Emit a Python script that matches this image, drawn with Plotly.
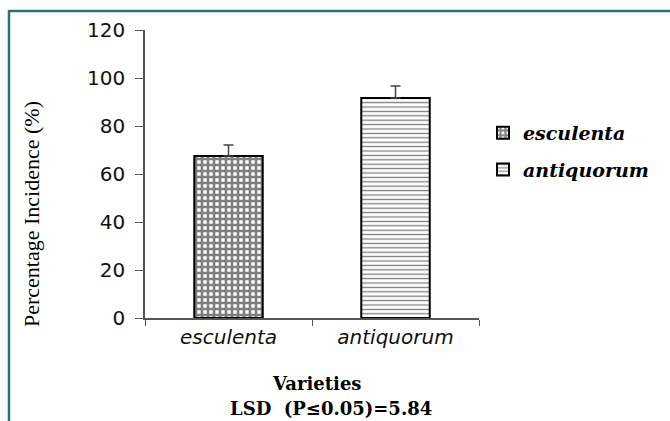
import plotly.graph_objects as go

categories = ["esculenta", "antiquorum"]
incidence = [67.5, 91.7]
std_err = [4.6, 5.0]
y_ticks = [0, 20, 40, 60, 80, 100, 120]
patterns = ["+", "-"]

L, R, T, B = 145, 479, 30, 318
W, H = 670, 421

def px_x(p):
    return (p - L) / (R - L)

def px_y(p):
    return (B - p) / (B - T)

fig = go.Figure()
for i, cat in enumerate(categories):
    shape = patterns[i]
    pat = dict(shape=shape, fgcolor="black", bgcolor="white",
               size=6 if shape == "+" else 4.4,
               solidity=0.68 if shape == "+" else 0.3)
    fig.add_trace(go.Bar(
        x=[cat], y=[incidence[i]], name=cat, legendgroup=cat,
        width=0.41,
        marker=dict(color="white", line=dict(color="black", width=2), pattern=pat),
        error_y=dict(type="data", array=[std_err[i]], arrayminus=[0], symmetric=False,
                     color="#444", thickness=1.5, width=5),
    ))

fig.update_layout(
    width=W, height=H,
    margin=dict(l=L, r=W - R, t=T, b=H - B, pad=0),
    paper_bgcolor="white", plot_bgcolor="white",
    barmode="overlay",
    showlegend=True,
    legend=dict(x=px_x(483), xanchor="left", y=px_y(114), yanchor="top",
                font=dict(family="DejaVu Serif", size=19, color="black", weight="bold", style="italic"),
                tracegroupgap=9, bgcolor="rgba(0,0,0,0)"),
    xaxis=dict(type="category", range=[-0.5, 1.5], showline=True, linecolor="#555", linewidth=1.5,
               ticks="outside", tickson="boundaries", ticklen=6, tickcolor="#555",
               tickfont=dict(family="DejaVu Sans", size=20, color="#111", style="italic"),
               showgrid=False, zeroline=False),
    yaxis=dict(range=[0, 120], tickvals=y_ticks, showline=True, linecolor="#555", linewidth=1.5,
               ticks="outside", ticklen=8, tickcolor="#555",
               tickfont=dict(family="DejaVu Sans", size=20, color="#111"),
               ticklabelstandoff=6,
               showgrid=False, zeroline=False),
    annotations=[
        dict(text="Percentage Incidence (%)", x=px_x(31), y=px_y(214), xref="paper", yref="paper",
             textangle=-90, showarrow=False, xanchor="center", yanchor="middle",
             font=dict(family="Liberation Serif", size=22, color="black")),
        dict(text="<b>Varieties</b>", x=px_x(317), y=px_y(383), xref="paper", yref="paper",
             showarrow=False, xanchor="center", yanchor="middle",
             font=dict(family="DejaVu Serif", size=18, color="black")),
        dict(text="<b>LSD  (P≤0.05)=5.84</b>", x=px_x(331), y=px_y(408), xref="paper", yref="paper",
             showarrow=False, xanchor="center", yanchor="middle",
             font=dict(family="DejaVu Serif", size=18, color="black")),
    ],
    shapes=[
        dict(type="line", xref="paper", yref="paper", x0=px_x(9), x1=px_x(W + 5), y0=px_y(11), y1=px_y(11),
             line=dict(color="#2c6e80", width=2.5)),
        dict(type="line", xref="paper", yref="paper", x0=px_x(9), x1=px_x(9), y0=px_y(10), y1=px_y(H + 5),
             line=dict(color="#2c6e80", width=2.5)),
    ],
)

fig.write_html("out.html", config={"displayModeBar": False},
               post_script="document.body.style.margin='0';document.body.style.overflow='hidden';")
